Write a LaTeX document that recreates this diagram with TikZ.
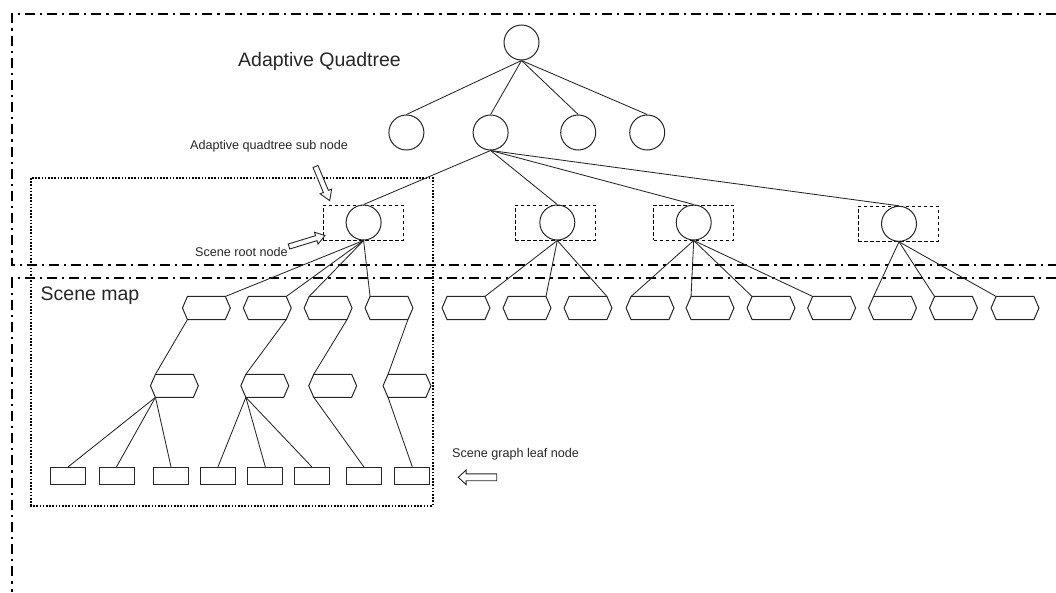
\documentclass[tikz,border=0pt]{standalone}
\usepackage{fontspec}
\setmainfont{Liberation Sans}
\usetikzlibrary{calc}
\begin{document}
\begin{tikzpicture}[x=1pt,y=-1pt,
  treeline/.style={line width=0.85pt, draw=black!85},
  qnode/.style={circle, draw=black!85, line width=1pt, minimum size=35pt, inner sep=0pt},
  subbox/.style={draw=black, dash pattern=on 3.5pt off 2.5pt, line width=0.8pt, minimum width=80pt, minimum height=35pt, inner sep=0pt},
  hexbox/.style={minimum width=47.5pt, minimum height=22.7pt, inner sep=0pt},
  hexline/.style={draw=black!85, line width=1pt, line join=miter},
  leafbox/.style={draw=black!85, line width=1pt, minimum width=35pt, minimum height=17pt, inner sep=0pt},
  region/.style={line width=2.2pt, dash pattern=on 10pt off 5pt on 2.2pt off 5pt},
  dotregion/.style={line width=1.9pt, dash pattern=on 1.6pt off 1.6pt},
  blockarrow/.style={draw=black!85, line width=0.9pt, fill=white, line join=miter},
  biglabel/.style={font=\fontsize{19.5}{22}\selectfont, inner sep=0pt, anchor=base west, text=black!85},
  smalllabel/.style={font=\fontsize{12.6}{15}\selectfont, inner sep=0pt, anchor=base west, text=black!85},
]
\useasboundingbox (0,0) rectangle (1056,592);

% regions
\draw[region] (1056,14) -- (12,14) -- (12,265) -- (1056,265);
\draw[region] (1056,278.3) -- (12,278.3) -- (12,592);
\draw[dotregion] (31.3,178) rectangle (432.7,505.7);

% labels
\node[biglabel] (tAQ) at (238,66.5) {Adaptive Quadtree};
\node[biglabel] (tSM) at (40.5,300.5) {Scene map};
\node[smalllabel] (tSub) at (190,149) {Adaptive quadtree sub node};
\node[smalllabel] (tRoot) at (195,256) {Scene root node};
\node[smalllabel] (tLeaf) at (452,457.5) {Scene graph leaf node};

% quadtree
\node[qnode] (R) at (521.5,42.5) {};
\node[qnode] (A1) at (406.4,132.5) {};
\node[qnode] (A2) at (490.6,132.5) {};
\node[qnode] (A3) at (578.2,132.5) {};
\node[qnode] (A4) at (647.2,132.5) {};
\foreach \c in {A1,A2,A3,A4} \draw[treeline] (R.south) -- (\c.north);

% scene roots
\node[subbox] (B1) at (363.2,222.5) {};
\node[subbox] (B2) at (555,222.5) {};
\node[subbox] (B3) at (693.5,222.5) {};
\node[subbox] (B4) at (898.3,223.8) {};
\node[qnode] (S1) at (363.6,222.5) {};
\node[qnode] (S2) at (557.3,222.5) {};
\node[qnode] (S3) at (693.7,222.5) {};
\node[qnode] (S4) at (899,223.8) {};
\foreach \c in {S1,S2,S3,S4} \draw[treeline] (A2.south) -- (\c.north);

% hexagon row 1
\foreach \n/\x in {H1/206.4,H2/267.3,H3/328.1,H4/389,H5/466,H6/527,H7/588,H8/650,H9/710,H10/771,H11/831.6,H12/892.5,H13/953.5,H14/1015}
  \node[hexbox] (\n) at (\x,308) {};
% hexagon row 2
\foreach \n/\x in {G1/174.4,G2/264.8,G3/332.7,G4/407}
  \node[hexbox] (\n) at (\x,385.8) {};
\foreach \n in {H1,H2,H3,H4,H5,H6,H7,H8,H9,H10,H11,H12,H13,H14,G1,G2,G3,G4}
  \draw[hexline] ([xshift=5pt]\n.north west) -- ([xshift=-5pt]\n.north east) -- (\n.east)
     -- ([xshift=-5pt]\n.south east) -- ([xshift=5pt]\n.south west) -- (\n.west) -- cycle;

% leaves
\foreach \n/\x in {L1/68.2,L2/116.5,L3/171,L4/218,L5/265.3,L6/311.8,L7/363.8,L8/412.3}
  \node[leafbox] (\n) at (\x,475.8) {};

% scene root -> row 1
\draw[treeline] (S1.south) -- ([xshift=-5pt]H1.north east);
\draw[treeline] (S1.south) -- ([xshift=-5pt]H2.north east);
\draw[treeline] (S1.south) -- ([xshift=5pt]H3.north west);
\draw[treeline] (S1.south) -- ([xshift=5pt]H4.north west);
\draw[treeline] (S2.south) -- ([xshift=-5pt]H5.north east);
\draw[treeline] (S2.south) -- ([xshift=-5pt]H6.north east);
\draw[treeline] (S2.south) -- ([xshift=-5pt]H7.north east);
\foreach \h in {H8,H9,H10,H11} \draw[treeline] (S3.south) -- ([xshift=5pt]\h.north west);
\foreach \h in {H12,H13,H14} \draw[treeline] (S4.south) -- ([xshift=5pt]\h.north west);

% row 1 -> row 2
\draw[treeline] ([xshift=5pt]H1.south west) -- ([xshift=5pt]G1.north west);
\draw[treeline] ([xshift=-5pt]H2.south east) -- ([xshift=5pt]G2.north west);
\draw[treeline] ([xshift=-5pt]H3.south east) -- ([xshift=5pt]G3.north west);
\draw[treeline] ([xshift=-5pt]H4.south east) -- ([xshift=5pt]G4.north west);

% row 2 -> leaves
\foreach \l in {L1,L2,L3} \draw[treeline] ([xshift=5pt]G1.south west) -- (\l.north);
\foreach \l in {L4,L5,L6} \draw[treeline] ([xshift=5pt]G2.south west) -- (\l.north);
\draw[treeline] ([xshift=5pt]G3.south west) -- (L7.north);
\draw[treeline] ([xshift=5pt]G4.south west) -- (L8.north);

% block arrows
\draw[blockarrow, shift={(315.5,166.5)}, rotate=-67.4]
  (0,-2.7) -- (27,-2.7) -- (27,-6.2) -- (37,0) -- (27,6.2) -- (27,2.7) -- (0,2.7) -- cycle;
\draw[blockarrow, shift={(289,246.5)}, rotate=17]
  (0,-2.6) -- (28.5,-2.6) -- (28.5,-6.2) -- (37.6,0) -- (28.5,6.2) -- (28.5,2.6) -- (0,2.6) -- cycle;
\draw[blockarrow, shift={(496.7,477.3)}, rotate=180]
  (0,-3.4) -- (30.6,-3.4) -- (30.6,-7.3) -- (38.4,0) -- (30.6,7.3) -- (30.6,3.4) -- (0,3.4) -- cycle;
\end{tikzpicture}
\end{document}
